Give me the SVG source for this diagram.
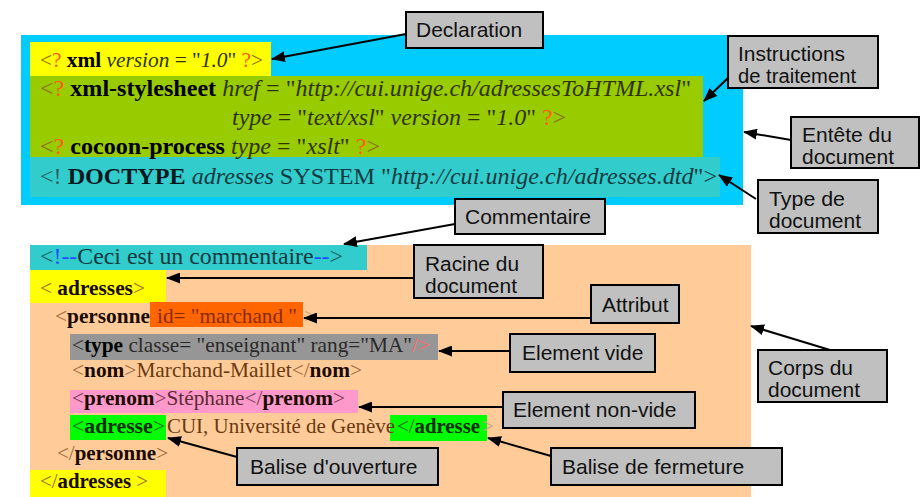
<svg xmlns="http://www.w3.org/2000/svg" width="924" height="497" viewBox="0 0 924 497">
  <style>
    .code { font-family: "Liberation Serif", "Times New Roman", serif; }
    .b { font-weight: bold; }
    .i { font-style: italic; }
    .lab { font-family: "Liberation Sans", Arial, sans-serif; font-size: 21px; fill: #111; }
    .lab2 { font-family: "Liberation Sans", Arial, sans-serif; font-size: 19.5px; fill: #111; }
    .box { fill: #c0c0c0; stroke: #000; stroke-width: 2; }
    .conn { stroke: #000; stroke-width: 2; fill: none; marker-end: url(#arrow); }
    .hb { fill: #8a6a10; }      /* header brackets */
    .q { fill: #ff5a00; }       /* question marks */
    .ha { fill: #2e3300; }      /* header attributes */
    .dt { fill: #0f3a40; }      /* doctype text */
    .cb { fill: #1e50ff; }      /* comment dashes */
    .pb { fill: #9a6a3a; }      /* body brackets */
    .pt { fill: #6a3a10; }      /* body content */
    .tn { fill: #1a0a00; }      /* tag names */
  </style>
  <defs>
    <marker id="arrow" markerUnits="userSpaceOnUse" markerWidth="14" markerHeight="11" refX="13" refY="5.5" orient="auto">
      <path d="M0,0 L14,5.5 L0,11 z" fill="#000"/>
    </marker>
  </defs>

  <rect width="924" height="497" fill="#fff"/>

  <!-- document header -->
  <g id="header">
    <rect x="21" y="35" width="722" height="170" fill="#00ccff"/>
    <rect x="30" y="42" width="241" height="34" fill="#ffff00"/>
    <rect x="30" y="76" width="673" height="81" fill="#99cc00"/>
    <rect x="30" y="157" width="690" height="40" fill="#33cccc"/>
    <text class="code" x="40" y="67" font-size="21" textLength="223" lengthAdjust="spacingAndGlyphs" xml:space="preserve"><tspan class="hb">&lt;</tspan><tspan class="q">?</tspan> <tspan class="b" fill="#000">xml</tspan> <tspan class="ha i">version</tspan><tspan class="ha"> = "</tspan><tspan class="ha i">1.0</tspan><tspan class="ha">" </tspan><tspan class="q">?</tspan><tspan class="hb">&gt;</tspan></text>
    <text class="code" x="40" y="96" font-size="24" textLength="651" lengthAdjust="spacingAndGlyphs" xml:space="preserve"><tspan class="hb">&lt;</tspan><tspan class="q">?</tspan> <tspan class="b" fill="#000">xml-stylesheet</tspan> <tspan class="ha i">href</tspan><tspan class="ha"> = "</tspan><tspan class="ha i">http://cui.unige.ch/adressesToHTML.xsl</tspan><tspan class="ha">"</tspan></text>
    <text class="code" x="232" y="125" font-size="24" textLength="334" lengthAdjust="spacingAndGlyphs" xml:space="preserve"><tspan class="ha i">type</tspan><tspan class="ha"> = "</tspan><tspan class="ha i">text/xsl</tspan><tspan class="ha">" </tspan><tspan class="ha i">version</tspan><tspan class="ha"> = "</tspan><tspan class="ha i">1.0</tspan><tspan class="ha">" </tspan><tspan class="q">?</tspan><tspan class="hb">&gt;</tspan></text>
    <text class="code" x="40" y="154" font-size="24" textLength="340" lengthAdjust="spacingAndGlyphs" xml:space="preserve"><tspan class="hb">&lt;</tspan><tspan class="q">?</tspan> <tspan class="b" fill="#000">cocoon-process</tspan> <tspan class="ha i">type</tspan><tspan class="ha"> = "</tspan><tspan class="ha i">xslt</tspan><tspan class="ha">" </tspan><tspan class="q">?</tspan><tspan class="hb">&gt;</tspan></text>
    <text class="code" x="40" y="184" font-size="24" textLength="677" lengthAdjust="spacingAndGlyphs" xml:space="preserve"><tspan fill="#2a6060">&lt;!</tspan> <tspan class="b" fill="#001820">DOCTYPE</tspan> <tspan class="dt i">adresses</tspan><tspan class="dt"> SYSTEM "</tspan><tspan class="dt i">http://cui.unige.ch/adresses.dtd</tspan><tspan class="dt">"&gt;</tspan></text>
  </g>

  <!-- document body -->
  <g id="body">
    <rect x="30" y="245" width="721" height="252" fill="#ffcc99"/>
    <rect x="30" y="245" width="337" height="25" fill="#33cccc"/>
    <rect x="30" y="270" width="136" height="33" fill="#ffff00"/>
    <rect x="150" y="302" width="153" height="25" fill="#ff6600"/>
    <rect x="70" y="334" width="368" height="26" fill="#969696"/>
    <rect x="70" y="390" width="288" height="23" fill="#ff99cc"/>
    <rect x="70" y="415" width="96" height="25" fill="#00ff00"/>
    <rect x="390" y="415" width="97" height="26" fill="#00ff00"/>
    <rect x="30" y="470" width="136" height="27" fill="#ffff00"/>

    <text class="code" x="40" y="264" font-size="24" textLength="303" lengthAdjust="spacingAndGlyphs" xml:space="preserve"><tspan fill="#0f5a60">&lt;</tspan><tspan class="cb">!--</tspan><tspan fill="#0f3a40">Ceci est un commentaire</tspan><tspan class="cb">--</tspan><tspan fill="#0f5a60">&gt;</tspan></text>
    <text class="code" x="40" y="295" font-size="21" textLength="105" lengthAdjust="spacingAndGlyphs" xml:space="preserve"><tspan class="pb">&lt; </tspan><tspan class="b tn">adresses</tspan><tspan class="pb">&gt;</tspan></text>
    <text class="code" x="55" y="323" font-size="21" textLength="95" lengthAdjust="spacingAndGlyphs"><tspan class="pb">&lt;</tspan><tspan class="b tn">personne</tspan></text>
    <text class="code" x="157" y="323" font-size="21" textLength="140" lengthAdjust="spacingAndGlyphs" fill="#8a2a00">id= "marchand "</text>
    <text class="code" x="304" y="323" font-size="21" fill="#c8a080">&gt;</text>
    <text class="code" x="72" y="352" font-size="21" textLength="358" lengthAdjust="spacingAndGlyphs" xml:space="preserve"><tspan fill="#333">&lt;</tspan><tspan class="b" fill="#000">type</tspan><tspan fill="#2a2a2a"> classe= "enseignant" rang="MA"</tspan><tspan fill="#ff6a6a">/&gt;</tspan></text>
    <text class="code" x="72" y="377" font-size="21" textLength="290" lengthAdjust="spacingAndGlyphs"><tspan class="pb">&lt;</tspan><tspan class="b tn">nom</tspan><tspan class="pb">&gt;</tspan><tspan class="pt">Marchand-Maillet</tspan><tspan class="pb">&lt;/</tspan><tspan class="b tn">nom</tspan><tspan class="pb">&gt;</tspan></text>
    <text class="code" x="72" y="405" font-size="21" textLength="273" lengthAdjust="spacingAndGlyphs"><tspan fill="#7a3a50">&lt;</tspan><tspan class="b tn">prenom</tspan><tspan fill="#7a3a50">&gt;</tspan><tspan fill="#5a2a30">Stéphane</tspan><tspan fill="#7a3a50">&lt;/</tspan><tspan class="b tn">prenom</tspan><tspan fill="#7a3a50">&gt;</tspan></text>
    <text class="code" x="72" y="433" font-size="21" textLength="93" lengthAdjust="spacingAndGlyphs"><tspan fill="#2a6a10">&lt;</tspan><tspan class="b" fill="#0a2a00">adresse</tspan><tspan fill="#2a6a10">&gt;</tspan></text>
    <text class="code pt" x="167" y="433" font-size="21" textLength="228" lengthAdjust="spacingAndGlyphs">CUI, Université de Genève</text>
    <text class="code" x="397" y="433" font-size="21" textLength="83" lengthAdjust="spacingAndGlyphs"><tspan fill="#2a6a10">&lt;/</tspan><tspan class="b" fill="#0a2a00">adresse</tspan></text>
    <text class="code" x="482" y="433" font-size="21" fill="#c8a080">&gt;</text>
    <text class="code" x="57" y="460" font-size="21" textLength="111" lengthAdjust="spacingAndGlyphs"><tspan class="pb">&lt;/</tspan><tspan class="b tn">personne</tspan><tspan class="pb">&gt;</tspan></text>
    <text class="code" x="40" y="488" font-size="21" textLength="108" lengthAdjust="spacingAndGlyphs" xml:space="preserve"><tspan class="pb">&lt;/</tspan><tspan class="b tn">adresses</tspan><tspan class="pb"> &gt;</tspan></text>
  </g>

  <!-- callout connectors -->
  <g id="connectors">
    <line class="conn" x1="406" y1="34" x2="272" y2="59"/>
    <line class="conn" x1="728" y1="78" x2="704" y2="101"/>
    <line class="conn" x1="791" y1="140" x2="744" y2="132"/>
    <line class="conn" x1="756" y1="199" x2="719" y2="175"/>
    <line class="conn" x1="455" y1="224" x2="344" y2="244"/>
    <line class="conn" x1="414" y1="278" x2="167" y2="278"/>
    <line class="conn" x1="591" y1="318" x2="304" y2="318"/>
    <line class="conn" x1="510" y1="351" x2="439" y2="351"/>
    <line class="conn" x1="830" y1="350" x2="751" y2="326"/>
    <line class="conn" x1="503" y1="407" x2="359" y2="407"/>
    <line class="conn" x1="237" y1="457" x2="168" y2="438"/>
    <line class="conn" x1="551" y1="456" x2="488" y2="438"/>
  </g>

  <!-- callout labels -->
  <g id="declaration">
    <rect class="box" x="406" y="12" width="137" height="36"/>
    <text class="lab" x="416" y="37">Declaration</text>
  </g>
  <g id="instructions">
    <rect class="box" x="728" y="36" width="150" height="52"/>
    <text class="lab2" x="738" y="61" textLength="107" lengthAdjust="spacingAndGlyphs">Instructions</text>
    <text class="lab2" x="738" y="83" textLength="118" lengthAdjust="spacingAndGlyphs">de traitement</text>
  </g>
  <g id="entete">
    <rect class="box" x="791" y="117" width="128" height="51"/>
    <text class="lab2" x="802" y="141.5" textLength="90" lengthAdjust="spacingAndGlyphs">Entête du</text>
    <text class="lab2" x="802" y="163.5" textLength="92" lengthAdjust="spacingAndGlyphs">document</text>
  </g>
  <g id="type-document">
    <rect class="box" x="758" y="180" width="120" height="53"/>
    <text class="lab2" x="769" y="205.5" textLength="76" lengthAdjust="spacingAndGlyphs">Type de</text>
    <text class="lab2" x="769" y="227.5" textLength="92" lengthAdjust="spacingAndGlyphs">document</text>
  </g>
  <g id="commentaire">
    <rect class="box" x="455" y="199" width="150" height="35"/>
    <text class="lab" x="465" y="224">Commentaire</text>
  </g>
  <g id="racine">
    <rect class="box" x="414" y="245" width="129" height="53"/>
    <text class="lab2" x="425" y="270.5" textLength="94" lengthAdjust="spacingAndGlyphs">Racine du</text>
    <text class="lab2" x="425" y="292.5" textLength="92" lengthAdjust="spacingAndGlyphs">document</text>
  </g>
  <g id="attribut">
    <rect class="box" x="591" y="285" width="88" height="38"/>
    <text class="lab" x="602" y="312">Attribut</text>
  </g>
  <g id="element-vide">
    <rect class="box" x="510" y="334" width="145" height="38"/>
    <text class="lab" x="522" y="360">Element vide</text>
  </g>
  <g id="corps">
    <rect class="box" x="758" y="350" width="129" height="52"/>
    <text class="lab2" x="768" y="374.5" textLength="85" lengthAdjust="spacingAndGlyphs">Corps du</text>
    <text class="lab2" x="768" y="396.5" textLength="92" lengthAdjust="spacingAndGlyphs">document</text>
  </g>
  <g id="element-non-vide">
    <rect class="box" x="503" y="392" width="192" height="36"/>
    <text class="lab" x="513" y="417">Element non-vide</text>
  </g>
  <g id="balise-ouverture">
    <rect class="box" x="237" y="448" width="201" height="37"/>
    <text class="lab" x="250" y="474">Balise d'ouverture</text>
  </g>
  <g id="balise-fermeture">
    <rect class="box" x="551" y="448" width="231" height="37"/>
    <text class="lab" x="562" y="474">Balise de fermeture</text>
  </g>
</svg>
